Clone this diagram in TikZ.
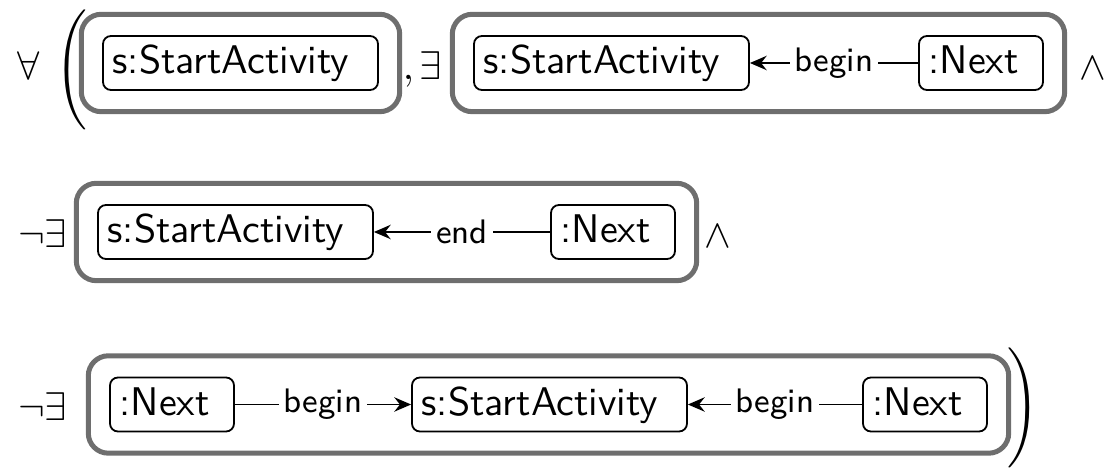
\documentclass[tikz,border=0pt]{standalone}
\usepackage{fontspec}
\usetikzlibrary{arrows.meta,fit}
\tikzset{
  obj/.style={draw, line width=0.45pt, rounded corners=2pt, inner xsep=2.4pt,
    inner ysep=1pt, text height=8.5pt, text depth=3pt, align=left,
    font=\sffamily\fontsize{10}{12}\selectfont},
  sa/.style={obj, text width=63.95pt},
  nx/.style={obj, text width=26.2pt},
  pattern box/.style={draw=black!57, line width=1.25pt, rounded corners=5pt, inner sep=5.2pt},
  rel/.style={line width=0.45pt, -{Stealth[length=4.2pt,width=3.6pt,inset=1.4pt]}},
  rlabel/.style={fill=white, inner xsep=1.3pt, inner ysep=0.5pt,
    font=\sffamily\fontsize{8.5}{10}\selectfont},
  sym/.style={inner sep=0pt, anchor=base},
}
\begin{document}
\begin{tikzpicture}[x=0.25pt, y=-0.25pt]
\useasboundingbox (0,0) rectangle (1116,469);

% first line: for all ( [s] , exists [s <-begin- n] and
\node[sym] (all) at (28.5,79.5) {$\forall$};
\node[inner sep=0pt] (lpar) at (71,69.5) {$\Biggl($};
\node[sa] (s1) at (240.5,63) {s:StartActivity};
\node[pattern box, fit=(s1)] (g1) {};
\node[sym, anchor=base west] (comma) at (402,79.5) {$,$};
\node[sym] (ex1) at (431,79.5) {$\exists$};
\node[sa] (s2) at (611.5,63) {s:StartActivity};
\node[nx] (n2) at (981,63) {:Next};
\node[pattern box, fit=(s2)(n2)] (g2) {};
\draw[rel] (n2) -- node[rlabel] {begin} (s2);
\node[sym] (and1) at (1093,79.5) {$\wedge$};

% second line: not exists [s <-end- n] and
\node[sym] (nex2) at (42.5,248) {$\neg\exists$};
\node[sa] (s3) at (235.5,232) {s:StartActivity};
\node[nx] (n3) at (613,232) {:Next};
\node[pattern box, fit=(s3)(n3)] (g3) {};
\draw[rel] (n3) -- node[rlabel] {end} (s3);
\node[sym] (and2) at (718,248) {$\wedge$};

% third line: not exists [n -begin-> s <-begin- n] )
\node[sym] (nex3) at (42.5,421) {$\neg\exists$};
\node[nx] (n4) at (172,404.5) {:Next};
\node[sa] (s4) at (549.5,404.5) {s:StartActivity};
\node[nx] (n5) at (925,404.5) {:Next};
\node[pattern box, fit=(n4)(s4)(n5)] (g4) {};
\draw[rel] (n4) -- node[rlabel] {begin} (s4);
\draw[rel] (n5) -- node[rlabel] {begin} (s4);
\node[inner sep=0pt] (rpar) at (1023,407.5) {$\Biggr)$};
\end{tikzpicture}
\end{document}
